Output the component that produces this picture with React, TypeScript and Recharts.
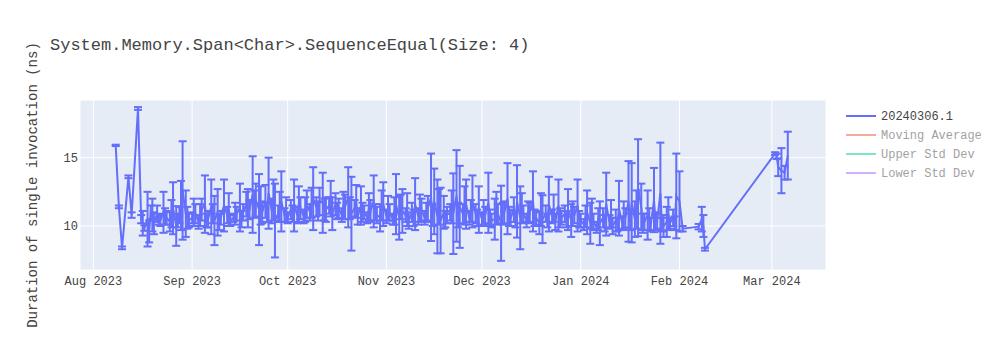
import { LineChart, Line, XAxis, YAxis, CartesianGrid, ErrorBar, Legend } from "recharts";

// first run of each day: date, mean duration (ns), std dev
const runDates = [
  "2023-08-08", "2023-08-09", "2023-08-10", "2023-08-12", "2023-08-13", "2023-08-15", "2023-08-16", "2023-08-17",
  "2023-08-18", "2023-08-19", "2023-08-20", "2023-08-21", "2023-08-22", "2023-08-23", "2023-08-24", "2023-08-25",
  "2023-08-26", "2023-08-27", "2023-08-28", "2023-08-29", "2023-08-30", "2023-08-31",
  "2023-09-01", "2023-09-02", "2023-09-03", "2023-09-04", "2023-09-05", "2023-09-06", "2023-09-07", "2023-09-08",
  "2023-09-09", "2023-09-10", "2023-09-11", "2023-09-12", "2023-09-13", "2023-09-14", "2023-09-15", "2023-09-16",
  "2023-09-17", "2023-09-18", "2023-09-19", "2023-09-20", "2023-09-21", "2023-09-22", "2023-09-23", "2023-09-24",
  "2023-09-25", "2023-09-26", "2023-09-27", "2023-09-28", "2023-09-29", "2023-09-30",
  "2023-10-01", "2023-10-02", "2023-10-03", "2023-10-04", "2023-10-05", "2023-10-06", "2023-10-07", "2023-10-08",
  "2023-10-09", "2023-10-10", "2023-10-11", "2023-10-12", "2023-10-13", "2023-10-14", "2023-10-15", "2023-10-16",
  "2023-10-17", "2023-10-18", "2023-10-19", "2023-10-20", "2023-10-21", "2023-10-22", "2023-10-23", "2023-10-24",
  "2023-10-25", "2023-10-26", "2023-10-27", "2023-10-28", "2023-10-29", "2023-10-30", "2023-10-31",
  "2023-11-01", "2023-11-02", "2023-11-03", "2023-11-04", "2023-11-05", "2023-11-06", "2023-11-07", "2023-11-08",
  "2023-11-09", "2023-11-10", "2023-11-11", "2023-11-12", "2023-11-13", "2023-11-14", "2023-11-15", "2023-11-16",
  "2023-11-17", "2023-11-18", "2023-11-19", "2023-11-20", "2023-11-21", "2023-11-22", "2023-11-23", "2023-11-24",
  "2023-11-25", "2023-11-26", "2023-11-27", "2023-11-28", "2023-11-29", "2023-11-30",
  "2023-12-01", "2023-12-02", "2023-12-03", "2023-12-04", "2023-12-05", "2023-12-06", "2023-12-07", "2023-12-08",
  "2023-12-09", "2023-12-10", "2023-12-11", "2023-12-12", "2023-12-13", "2023-12-14", "2023-12-15", "2023-12-16",
  "2023-12-17", "2023-12-18", "2023-12-19", "2023-12-20", "2023-12-21", "2023-12-22", "2023-12-23", "2023-12-24",
  "2023-12-25", "2023-12-26", "2023-12-27", "2023-12-28", "2023-12-29", "2023-12-30", "2023-12-31",
  "2024-01-01", "2024-01-02", "2024-01-03", "2024-01-04", "2024-01-05", "2024-01-06", "2024-01-07", "2024-01-08",
  "2024-01-09", "2024-01-10", "2024-01-11", "2024-01-12", "2024-01-13", "2024-01-14", "2024-01-15", "2024-01-16",
  "2024-01-17", "2024-01-18", "2024-01-19", "2024-01-20", "2024-01-21", "2024-01-22", "2024-01-23", "2024-01-24",
  "2024-01-25", "2024-01-26", "2024-01-27", "2024-01-28", "2024-01-29", "2024-01-30", "2024-01-31",
  "2024-02-01", "2024-02-02", "2024-02-07", "2024-02-08", "2024-02-08T12:00Z", "2024-02-09",
  "2024-03-02", "2024-03-02T12:00Z", "2024-03-03", "2024-03-04", "2024-03-05", "2024-03-06",
];

const means = [
  15.9, 11.4, 8.4, 13.6, 10.8, 18.6, 10.5, 9.85, 10.5, 11.0, 10.2, 10.9, 10.4, 11.0, 10.6, 10.3, 11.3, 10.0, 10.8, 12.6, 10.9, 10.4,
  10.6, 10.9, 10.3, 11.2, 11.6, 10.5, 11.4, 10.4, 11.0, 10.6, 11.5, 10.8, 10.4, 10.6, 10.9, 11.35, 11.0, 11.6, 11.2, 12.3, 11.9, 11.2, 11.0, 11.8, 12.4, 11.1, 10.4, 10.9, 11.8, 10.8,
  10.6, 11.2, 11.5, 10.8, 11.3, 10.7, 11.6, 11.0, 12.0, 11.4, 11.8, 11.7, 11.2, 11.5, 10.9, 11.6, 11.3, 10.8, 11.4, 12.1, 10.9, 11.3, 10.7, 11.5, 11.0, 10.6, 11.1, 11.8, 10.8, 10.6, 11.6,
  10.7, 11.0, 10.5, 11.6, 10.6, 11.1, 10.8, 10.4, 11.0, 11.6, 10.7, 11.2, 10.6, 11.3, 12.1, 11.8, 10.7, 10.4, 11.0, 10.8, 11.0, 10.9, 12.2, 11.4, 10.9, 11.6, 10.6, 11.8, 10.9, 11.2,
  10.5, 10.8, 11.7, 10.4, 10.5, 10.9, 10.2, 11.0, 12.0, 10.6, 11.2, 11.8, 10.6, 10.9, 10.4, 11.0, 11.8, 10.6, 10.2, 10.5, 10.9, 11.6, 10.7, 10.3, 11.5, 10.6, 10.9, 11.2, 10.4, 10.8, 11.5,
  10.4, 10.1, 11.0, 10.2, 10.3, 9.9, 10.2, 10.6, 11.6, 10.3, 10.0, 10.4, 11.3, 10.2, 10.6, 11.8, 11.7, 10.5, 12.8, 11.4, 10.3, 10.8, 10.1, 11.9, 10.4, 12.4, 10.0, 10.3, 10.2, 10.6, 12.2,
  11.8, 9.8, 9.95, 10.5, 10.0, 8.3,
  15.3, 15.1, 14.3, 14.05, 13.9, 15.15,
];

const errs = [
  0.05, 0.1, 0.1, 0.1, 0.2, 0.1, 0.3, 0.2, 2.0, 0.5, 0.8, 0.6, 0.4, 1.5, 0.5, 0.7, 1.9, 1.45, 0.6, 3.6, 1.7, 0.5,
  0.4, 0.7, 0.5, 0.8, 2.1, 0.6, 2.0, 1.8, 1.7, 0.5, 1.9, 0.6, 0.4, 0.3, 0.5, 1.75, 0.6, 0.9, 0.7, 2.8, 1.2, 2.6, 0.8, 1.2, 2.6, 0.9, 2.7, 0.6, 2.2, 0.5,
  0.4, 0.7, 1.9, 0.6, 0.8, 0.5, 1.0, 0.6, 2.3, 0.7, 1.0, 2.2, 0.9, 0.6, 1.2, 0.8, 0.7, 0.5, 0.9, 2.2, 2.7, 0.6, 0.6, 1.4, 0.5, 0.4, 0.8, 1.9, 0.6, 1.0, 1.6,
  0.5, 0.6, 0.4, 2.2, 1.6, 1.6, 0.5, 0.6, 0.7, 1.9, 0.6, 0.8, 0.5, 0.9, 3.2, 2.4, 2.7, 2.4, 1.2, 0.6, 0.6, 2.95, 3.35, 3.0, 0.7, 1.8, 0.5, 1.9, 0.7, 1.7,
  0.5, 0.6, 2.2, 0.5, 1.5, 0.7, 2.75, 0.8, 2.6, 0.6, 0.9, 2.65, 2.3, 0.6, 0.5, 0.7, 2.2, 0.5, 0.8, 1.75, 0.6, 2.0, 0.5, 0.6, 1.9, 0.5, 0.6, 1.5, 1.2, 0.6, 1.9,
  0.5, 0.4, 1.6, 1.5, 0.6, 0.4, 1.6, 0.7, 2.3, 0.5, 0.6, 0.8, 2.0, 0.5, 0.7, 2.95, 2.9, 1.3, 3.55, 1.7, 0.6, 1.8, 0.5, 2.35, 0.6, 3.7, 0.8, 1.1, 0.4, 0.6, 3.1,
  2.2, 0.2, 0.2, 0.9, 0.8, 0.1,
  0.1, 0.2, 0.65, 1.65, 0.5, 1.75,
];

// second run on some days (midday)
const extraDates = [
  "2023-08-16", "2023-08-18", "2023-08-19", "2023-08-21", "2023-08-23", "2023-08-25", "2023-08-27", "2023-08-28", "2023-08-30",
  "2023-09-01", "2023-09-03", "2023-09-05", "2023-09-07", "2023-09-09", "2023-09-12", "2023-09-14", "2023-09-16",
  "2023-09-18", "2023-09-20", "2023-09-22", "2023-09-24", "2023-09-26", "2023-09-28", "2023-09-30",
  "2023-10-02", "2023-10-04", "2023-10-06", "2023-10-08", "2023-10-10", "2023-10-12", "2023-10-14", "2023-10-16",
  "2023-10-18", "2023-10-20", "2023-10-22", "2023-10-24", "2023-10-26", "2023-10-28", "2023-10-30",
  "2023-11-01", "2023-11-03", "2023-11-05", "2023-11-07", "2023-11-09", "2023-11-11", "2023-11-13", "2023-11-15",
  "2023-11-17", "2023-11-19", "2023-11-21", "2023-11-23", "2023-11-25", "2023-11-27", "2023-11-29",
  "2023-12-01", "2023-12-03", "2023-12-05", "2023-12-07", "2023-12-09", "2023-12-11", "2023-12-13", "2023-12-15",
  "2023-12-17", "2023-12-19", "2023-12-21", "2023-12-23", "2023-12-25", "2023-12-27", "2023-12-29", "2023-12-31",
  "2024-01-02", "2024-01-04", "2024-01-06", "2024-01-08", "2024-01-10", "2024-01-12", "2024-01-14", "2024-01-16",
  "2024-01-18", "2024-01-20", "2024-01-22", "2024-01-24", "2024-01-26", "2024-01-28", "2024-01-30",
];

const extraMeans = [
  10.2, 9.6, 10.8, 10.5, 10.7, 10.9, 10.4, 11.5, 10.6,
  11.0, 10.8, 10.4, 10.9, 10.3, 11.2, 10.9, 10.5, 11.3, 11.6, 11.5, 11.0, 11.9, 11.4, 11.2,
  10.9, 11.6, 11.2, 11.7, 11.1, 11.2, 12.0, 11.1, 11.5, 11.3, 11.8, 11.0, 11.4, 11.0, 11.5,
  11.3, 11.1, 11.4, 11.2, 10.6, 11.3, 11.0, 10.8, 11.4, 10.5, 11.4, 10.8, 11.5, 11.1, 10.6,
  11.0, 10.6, 11.3, 10.9, 10.7, 10.5, 11.3, 11.0, 10.6, 11.2, 10.4, 11.3, 10.6, 10.5, 10.9, 10.5,
  10.7, 10.9, 10.5, 10.2, 10.9, 10.1, 10.8, 10.3, 11.2, 10.2, 10.5, 10.3, 10.1, 10.9, 10.2,
];

const extraErrs = [
  0.9, 0.8, 1.2, 0.4, 0.6, 1.0, 0.5, 1.8, 0.8,
  1.0, 0.8, 0.5, 0.7, 0.6, 1.2, 0.8, 0.6, 1.4, 1.0, 1.4, 0.7, 1.5, 1.1, 0.9,
  0.6, 1.3, 0.9, 1.1, 0.7, 0.8, 1.3, 0.6, 1.0, 0.8, 1.2, 0.7, 1.0, 0.6, 1.1,
  0.9, 1.0, 0.9, 1.2, 0.6, 1.0, 0.7, 0.8, 1.3, 0.6, 1.2, 0.9, 1.4, 0.8, 0.6,
  0.9, 0.6, 1.2, 0.8, 0.7, 0.6, 1.1, 0.8, 0.6, 1.2, 0.5, 1.0, 0.7, 0.6, 0.9, 0.6,
  0.8, 1.1, 0.8, 0.6, 1.0, 0.5, 1.0, 0.6, 1.4, 0.7, 0.8, 0.6, 0.5, 1.2, 0.5,
];

const tickDates = ["2023-08-01", "2023-09-01", "2023-10-01", "2023-11-01", "2023-12-01", "2024-01-01", "2024-02-01", "2024-03-01"];
const tickLabels = ["Aug 2023", "Sep 2023", "Oct 2023", "Nov 2023", "Dec 2023", "Jan 2024", "Feb 2024", "Mar 2024"];
const yTicks = [10, 15];

const seriesNames = ["20240306.1", "Moving Average", "Upper Std Dev", "Lower Std Dev"];
const seriesColors = ["#636efa", "#EF553B", "#00cc96", "#ab63fa"];
const seriesVisible = [true, false, false, false];

const FONT = '"Liberation Mono", "Courier New", monospace';

const data = [
  ...runDates.map((d, i) => ({ t: Date.parse(d), mean: means[i], err: errs[i] })),
  ...extraDates.map((d, i) => ({ t: Date.parse(d + "T12:00Z"), mean: extraMeans[i], err: extraErrs[i] })),
].sort((a, b) => a.t - b.t);

const ticks = tickDates.map((d) => Date.parse(d));
const xDomain = [Date.UTC(2023, 6, 27, 19), Date.UTC(2024, 2, 18, 0)];

const fmtTick = (v: number) => {
  const i = ticks.indexOf(v);
  return i >= 0 ? tickLabels[i] : "";
};

const renderLegend = () => (
  <svg width={170} height={80} style={{ fontFamily: FONT }}>
    {seriesNames.map((name, i) => (
      <g key={name} opacity={seriesVisible[i] ? 1 : 0.5}>
        <line x1={16} x2={46} y1={10 + i * 19} y2={10 + i * 19} stroke={seriesColors[i]} strokeWidth={2} />
        <text x={51} y={10 + i * 19} dy="0.35em" fontSize={12} fill="#444">
          {name}
        </text>
      </g>
    ))}
  </svg>
);

export default function App() {
  return (
    <div style={{ position: "absolute", left: 0, top: 0, width: 1000, height: 350, background: "#fff", fontFamily: FONT }}>
      <LineChart width={1000} height={350} data={data} margin={{ top: 100, right: 174, bottom: 50, left: 0 }}>
        <CartesianGrid fill="#E5ECF6" stroke="#fff" strokeWidth={1} />
        <XAxis
          dataKey="t"
          type="number"
          domain={xDomain}
          allowDataOverflow
          ticks={ticks}
          tickFormatter={fmtTick}
          axisLine={false}
          tickLine={false}
          tickSize={0}
          tickMargin={6}
          height={30}
          tick={{ fill: "#444", fontSize: 12, fontFamily: FONT }}
          interval={0}
        />
        <YAxis
          type="number"
          domain={[6.78, 19.22]}
          allowDataOverflow
          ticks={yTicks}
          axisLine={false}
          tickLine={false}
          tickSize={0}
          tickMargin={2}
          width={80}
          tick={{ fill: "#444", fontSize: 12, fontFamily: FONT }}
        />
        <Legend
          layout="horizontal"
          verticalAlign="middle"
          align="center"
          content={renderLegend}
          wrapperStyle={{ left: 830, top: 105.7, width: 170, height: 80 }}
        />
        <Line
          type="linear"
          dataKey="mean"
          name={seriesNames[0]}
          stroke={seriesColors[0]}
          strokeWidth={2}
          dot={false}
          activeDot={false}
          isAnimationActive={false}
        >
          <ErrorBar dataKey="err" width={4} stroke={seriesColors[0]} strokeWidth={2} direction="y" isAnimationActive={false} />
        </Line>
      </LineChart>
      <svg width={1000} height={350} style={{ position: "absolute", left: 0, top: 0, pointerEvents: "none" }}>
        <text x={50} y={50} fontSize={17} fill="#444" fontFamily={FONT}>
          System.Memory.Span&lt;Char&gt;.SequenceEqual(Size: 4)
        </text>
        <text transform="translate(37,185) rotate(-90)" textAnchor="middle" fontSize={14} fill="#444" fontFamily={FONT}>
          Duration of single invocation (ns)
        </text>
      </svg>
    </div>
  );
}
